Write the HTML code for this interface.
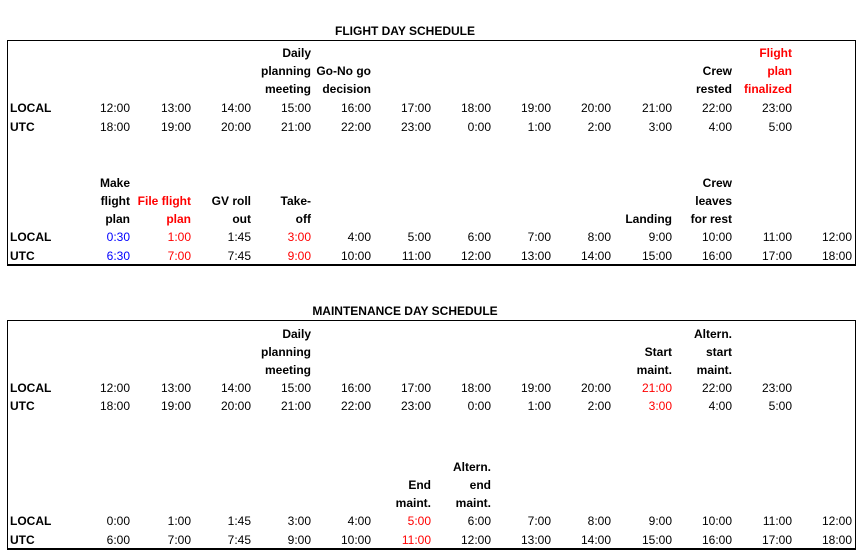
<!DOCTYPE html>
<html><head><meta charset="utf-8"><style>
body{margin:0;width:865px;height:558px;background:#fff;position:relative;overflow:hidden;font-family:"Liberation Sans",Arial,sans-serif;font-size:12px;color:#000}
.b{position:absolute;border:1px solid #000;border-bottom-width:2px}
.t{position:absolute;font-weight:bold;width:400px;text-align:center;left:205px;line-height:16px}
.c{position:absolute;width:64px;text-align:right;line-height:16px;white-space:nowrap}
.h{font-weight:bold}
.l{position:absolute;left:10px;font-weight:bold;line-height:16px}
.r{color:#f00}.u{color:#00f}
</style></head><body>
<div class="t" style="top:23px">FLIGHT DAY SCHEDULE</div>
<div class="b" style="left:7px;top:40px;width:847px;height:223px"></div>
<div class="t" style="top:303px">MAINTENANCE DAY SCHEDULE</div>
<div class="b" style="left:7px;top:320px;width:847px;height:227px"></div>

<!-- Flight top -->
<div class="c h" style="left:247px;top:45px">Daily</div>
<div class="c h" style="left:247px;top:63px">planning</div>
<div class="c h" style="left:247px;top:81px">meeting</div>
<div class="c h" style="left:307px;top:63px">Go-No go</div>
<div class="c h" style="left:307px;top:81px">decision</div>
<div class="c h" style="left:668px;top:63px">Crew</div>
<div class="c h" style="left:668px;top:81px">rested</div>
<div class="c h r" style="left:728px;top:45px">Flight</div>
<div class="c h r" style="left:728px;top:63px">plan</div>
<div class="c h r" style="left:728px;top:81px">finalized</div>
<div class="l" style="top:100px">LOCAL</div>
<div class="l" style="top:119px">UTC</div>
<div class="c" style="left:66px;top:100px">12:00</div><div class="c" style="left:127px;top:100px">13:00</div><div class="c" style="left:187px;top:100px">14:00</div><div class="c" style="left:247px;top:100px">15:00</div><div class="c" style="left:307px;top:100px">16:00</div><div class="c" style="left:367px;top:100px">17:00</div><div class="c" style="left:427px;top:100px">18:00</div><div class="c" style="left:487px;top:100px">19:00</div><div class="c" style="left:547px;top:100px">20:00</div><div class="c" style="left:608px;top:100px">21:00</div><div class="c" style="left:668px;top:100px">22:00</div><div class="c" style="left:728px;top:100px">23:00</div>
<div class="c" style="left:66px;top:119px">18:00</div><div class="c" style="left:127px;top:119px">19:00</div><div class="c" style="left:187px;top:119px">20:00</div><div class="c" style="left:247px;top:119px">21:00</div><div class="c" style="left:307px;top:119px">22:00</div><div class="c" style="left:367px;top:119px">23:00</div><div class="c" style="left:427px;top:119px">0:00</div><div class="c" style="left:487px;top:119px">1:00</div><div class="c" style="left:547px;top:119px">2:00</div><div class="c" style="left:608px;top:119px">3:00</div><div class="c" style="left:668px;top:119px">4:00</div><div class="c" style="left:728px;top:119px">5:00</div>

<!-- Flight bottom -->
<div class="c h" style="left:66px;top:175px">Make</div>
<div class="c h" style="left:66px;top:193px">flight</div>
<div class="c h" style="left:66px;top:211px">plan</div>
<div class="c h r" style="left:127px;top:193px">File flight</div>
<div class="c h r" style="left:127px;top:211px">plan</div>
<div class="c h" style="left:187px;top:193px">GV roll</div>
<div class="c h" style="left:187px;top:211px">out</div>
<div class="c h" style="left:247px;top:193px">Take-</div>
<div class="c h" style="left:247px;top:211px">off</div>
<div class="c h" style="left:608px;top:211px">Landing</div>
<div class="c h" style="left:668px;top:175px">Crew</div>
<div class="c h" style="left:668px;top:193px">leaves</div>
<div class="c h" style="left:668px;top:211px">for rest</div>
<div class="l" style="top:229px">LOCAL</div>
<div class="l" style="top:248px">UTC</div>
<div class="c u" style="left:66px;top:229px">0:30</div><div class="c r" style="left:127px;top:229px">1:00</div><div class="c" style="left:187px;top:229px">1:45</div><div class="c r" style="left:247px;top:229px">3:00</div><div class="c" style="left:307px;top:229px">4:00</div><div class="c" style="left:367px;top:229px">5:00</div><div class="c" style="left:427px;top:229px">6:00</div><div class="c" style="left:487px;top:229px">7:00</div><div class="c" style="left:547px;top:229px">8:00</div><div class="c" style="left:608px;top:229px">9:00</div><div class="c" style="left:668px;top:229px">10:00</div><div class="c" style="left:728px;top:229px">11:00</div><div class="c" style="left:788px;top:229px">12:00</div>
<div class="c u" style="left:66px;top:248px">6:30</div><div class="c r" style="left:127px;top:248px">7:00</div><div class="c" style="left:187px;top:248px">7:45</div><div class="c r" style="left:247px;top:248px">9:00</div><div class="c" style="left:307px;top:248px">10:00</div><div class="c" style="left:367px;top:248px">11:00</div><div class="c" style="left:427px;top:248px">12:00</div><div class="c" style="left:487px;top:248px">13:00</div><div class="c" style="left:547px;top:248px">14:00</div><div class="c" style="left:608px;top:248px">15:00</div><div class="c" style="left:668px;top:248px">16:00</div><div class="c" style="left:728px;top:248px">17:00</div><div class="c" style="left:788px;top:248px">18:00</div>

<!-- Maintenance top -->
<div class="c h" style="left:247px;top:326px">Daily</div>
<div class="c h" style="left:247px;top:344px">planning</div>
<div class="c h" style="left:247px;top:362px">meeting</div>
<div class="c h" style="left:608px;top:344px">Start</div>
<div class="c h" style="left:608px;top:362px">maint.</div>
<div class="c h" style="left:668px;top:326px">Altern.</div>
<div class="c h" style="left:668px;top:344px">start</div>
<div class="c h" style="left:668px;top:362px">maint.</div>
<div class="l" style="top:380px">LOCAL</div>
<div class="l" style="top:398px">UTC</div>
<div class="c" style="left:66px;top:380px">12:00</div><div class="c" style="left:127px;top:380px">13:00</div><div class="c" style="left:187px;top:380px">14:00</div><div class="c" style="left:247px;top:380px">15:00</div><div class="c" style="left:307px;top:380px">16:00</div><div class="c" style="left:367px;top:380px">17:00</div><div class="c" style="left:427px;top:380px">18:00</div><div class="c" style="left:487px;top:380px">19:00</div><div class="c" style="left:547px;top:380px">20:00</div><div class="c r" style="left:608px;top:380px">21:00</div><div class="c" style="left:668px;top:380px">22:00</div><div class="c" style="left:728px;top:380px">23:00</div>
<div class="c" style="left:66px;top:398px">18:00</div><div class="c" style="left:127px;top:398px">19:00</div><div class="c" style="left:187px;top:398px">20:00</div><div class="c" style="left:247px;top:398px">21:00</div><div class="c" style="left:307px;top:398px">22:00</div><div class="c" style="left:367px;top:398px">23:00</div><div class="c" style="left:427px;top:398px">0:00</div><div class="c" style="left:487px;top:398px">1:00</div><div class="c" style="left:547px;top:398px">2:00</div><div class="c r" style="left:608px;top:398px">3:00</div><div class="c" style="left:668px;top:398px">4:00</div><div class="c" style="left:728px;top:398px">5:00</div>

<!-- Maintenance bottom -->
<div class="c h" style="left:367px;top:477px">End</div>
<div class="c h" style="left:367px;top:495px">maint.</div>
<div class="c h" style="left:427px;top:459px">Altern.</div>
<div class="c h" style="left:427px;top:477px">end</div>
<div class="c h" style="left:427px;top:495px">maint.</div>
<div class="l" style="top:513px">LOCAL</div>
<div class="l" style="top:532px">UTC</div>
<div class="c" style="left:66px;top:513px">0:00</div><div class="c" style="left:127px;top:513px">1:00</div><div class="c" style="left:187px;top:513px">1:45</div><div class="c" style="left:247px;top:513px">3:00</div><div class="c" style="left:307px;top:513px">4:00</div><div class="c r" style="left:367px;top:513px">5:00</div><div class="c" style="left:427px;top:513px">6:00</div><div class="c" style="left:487px;top:513px">7:00</div><div class="c" style="left:547px;top:513px">8:00</div><div class="c" style="left:608px;top:513px">9:00</div><div class="c" style="left:668px;top:513px">10:00</div><div class="c" style="left:728px;top:513px">11:00</div><div class="c" style="left:788px;top:513px">12:00</div>
<div class="c" style="left:66px;top:532px">6:00</div><div class="c" style="left:127px;top:532px">7:00</div><div class="c" style="left:187px;top:532px">7:45</div><div class="c" style="left:247px;top:532px">9:00</div><div class="c" style="left:307px;top:532px">10:00</div><div class="c r" style="left:367px;top:532px">11:00</div><div class="c" style="left:427px;top:532px">12:00</div><div class="c" style="left:487px;top:532px">13:00</div><div class="c" style="left:547px;top:532px">14:00</div><div class="c" style="left:608px;top:532px">15:00</div><div class="c" style="left:668px;top:532px">16:00</div><div class="c" style="left:728px;top:532px">17:00</div><div class="c" style="left:788px;top:532px">18:00</div>
</body></html>
